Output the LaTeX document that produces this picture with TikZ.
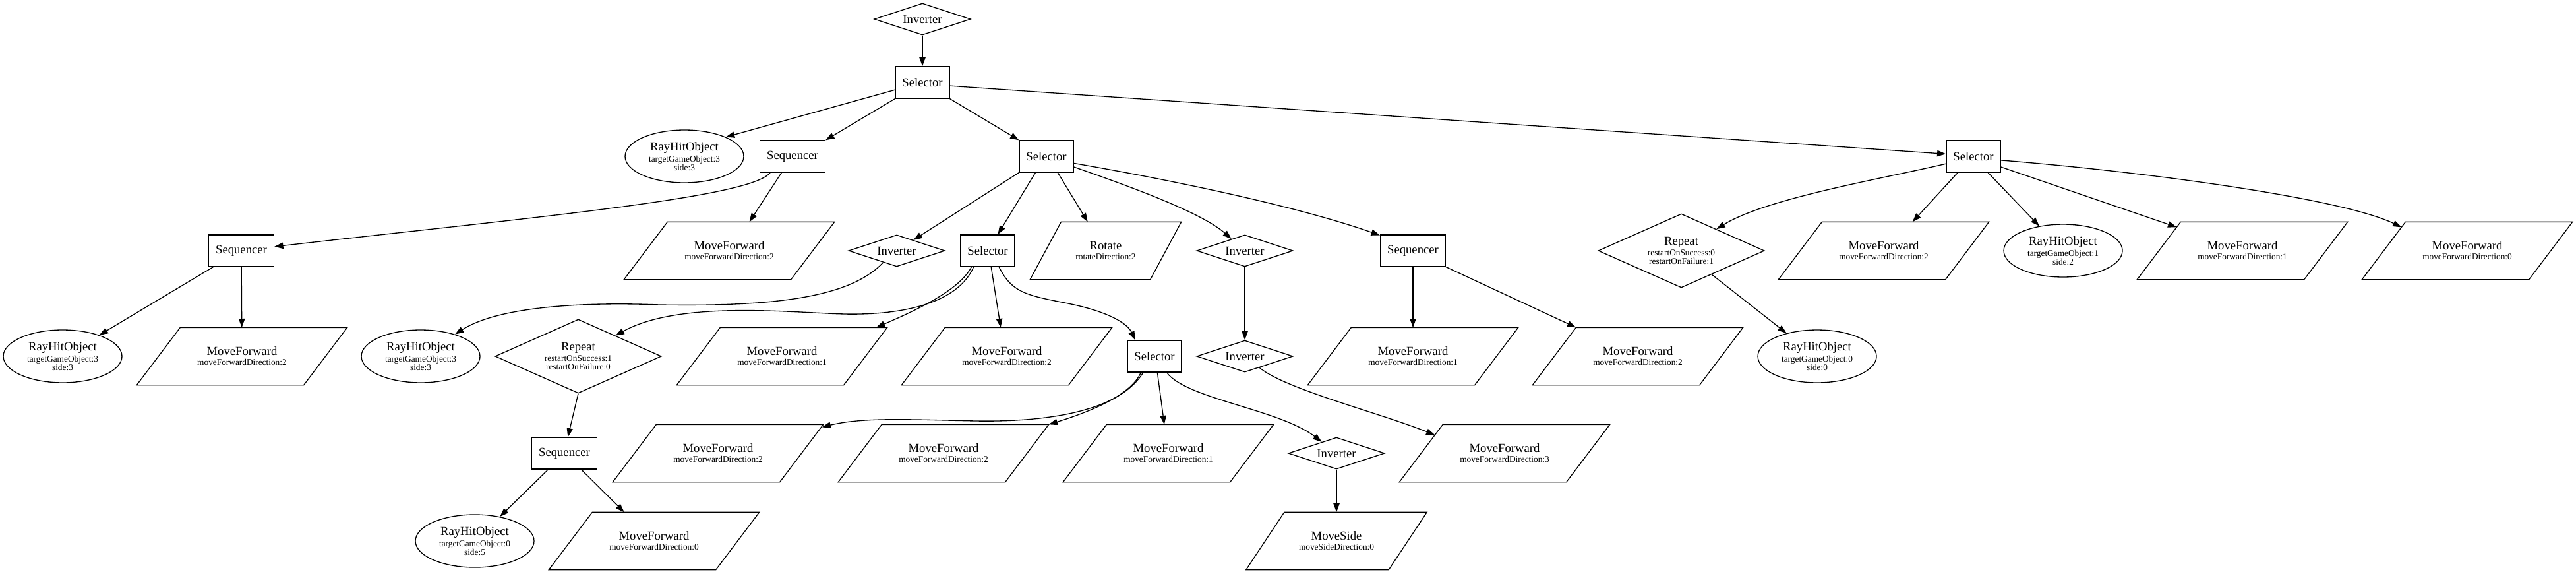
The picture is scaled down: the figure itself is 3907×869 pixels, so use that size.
\documentclass[tikz,border=0pt]{standalone}
\usepackage{fontspec}
\setmainfont{Liberation Serif}
\usetikzlibrary{shapes.geometric,arrows.meta,calc}
\newcommand\gvmain{\fontsize{14}{16}\selectfont}
\newcommand\mfwd[1]{{\gvmain MoveForward}\\[1.75pt]moveForwardDirection:#1}
\newcommand\rayhit[2]{{\gvmain RayHitObject}\\[1.75pt]targetGameObject:#1\\side:#2}
\newcommand\repeatlbl[2]{{\gvmain Repeat}\\[1.75pt]restartOnSuccess:#1\\restartOnFailure:#2}
\begin{document}
\begin{tikzpicture}[x=0.75pt,y=-0.75pt,
  gnode/.style={draw,line width=1pt,inner sep=1pt,align=center,font=\fontsize{10}{9.5}\selectfont},
  selbox/.style={gnode,rectangle,minimum width=61.5pt,minimum height=36pt,font=\gvmain},
  seqbox/.style={gnode,rectangle,minimum width=74.25pt,minimum height=36pt,font=\gvmain},
  invdia/.style={gnode,diamond,aspect=3,minimum width=109.5pt,minimum height=36pt,font=\gvmain},
  repdia/.style={gnode,diamond,aspect=2.25,minimum width=189pt,minimum height=84pt},
  rayell/.style={gnode,ellipse,minimum width=135pt,minimum height=60pt},
  para/.style={gnode,draw=none,rectangle,minimum width=#1,minimum height=64.5pt},
  mfpara/.style={para=238.5pt},
  paraline/.style={draw,line width=1pt,line join=miter},
  conn/.style={draw,line width=1pt,-{Triangle[length=10pt,width=7pt]}}
]
\fill[white] (0,0) rectangle (3907,869);
\useasboundingbox (0,0) rectangle (3907,869);

% level 0-1
\node[invdia] (inv0) at (1399,29) {Inverter};
\node[selbox] (sel0) at (1399,125) {Selector};
% level 2
\node[rayell] (rh1) at (1038,237) {\rayhit{3}{3}};
\node[seqbox] (seq1) at (1202,237) {Sequencer};
\node[selbox] (sel1) at (1587,237) {Selector};
\node[selbox] (sel2) at (2993,237) {Selector};
% level 3
\node[seqbox] (seq2) at (366,380) {Sequencer};
\node[mfpara] (mf1) at (1106,380) {\mfwd{2}};
\node[invdia] (inv1) at (1360,380) {Inverter};
\node[selbox] (sel3) at (1498,380) {Selector};
\node[para=171pt] (rot) at (1677,380) {{\gvmain Rotate}\\[1.75pt]rotateDirection:2};
\node[invdia] (inv2) at (1888,380) {Inverter};
\node[seqbox] (seq3) at (2143,380) {Sequencer};
\node[repdia] (rep1) at (2550,380) {\repeatlbl{0}{1}};
\node[mfpara] (mf2) at (2857,380) {\mfwd{2}};
\node[rayell] (rh2) at (3129,380) {\rayhit{1}{2}};
\node[mfpara] (mf3) at (3401,380) {\mfwd{1}};
\node[mfpara] (mf4) at (3742,380) {\mfwd{0}};
% level 4
\node[rayell] (rh3) at (95,540) {\rayhit{3}{3}};
\node[mfpara] (mf5) at (367,540) {\mfwd{2}};
\node[rayell] (rh4) at (638,540) {\rayhit{3}{3}};
\node[repdia] (rep2) at (877,540) {\repeatlbl{1}{0}};
\node[mfpara] (mf6) at (1186,540) {\mfwd{1}};
\node[mfpara] (mf7) at (1527,540) {\mfwd{2}};
\node[selbox] (sel4) at (1751,540) {Selector};
\node[invdia] (inv3) at (1888,540) {Inverter};
\node[mfpara] (mf8) at (2143,540) {\mfwd{1}};
\node[mfpara] (mf9) at (2484,540) {\mfwd{2}};
\node[rayell] (rh5) at (2756,540) {\rayhit{0}{0}};
% level 5
\node[seqbox] (seq4) at (856,687) {Sequencer};
\node[mfpara] (mf10) at (1089,687) {\mfwd{2}};
\node[mfpara] (mf11) at (1431,687) {\mfwd{2}};
\node[mfpara] (mf12) at (1772,687) {\mfwd{1}};
\node[invdia] (inv4) at (2027,687) {Inverter};
\node[mfpara] (mf13) at (2282,687) {\mfwd{3}};
% level 6
\node[rayell] (rh6) at (720,820) {\rayhit{0}{5}};
\node[mfpara] (mf14) at (992,820) {\mfwd{0}};
\node[para=204.75pt] (ms) at (2027,820) {{\gvmain MoveSide}\\[1.75pt]moveSideDirection:0};

% parallelogram outlines
\foreach \n/\o in {mf1/66,mf2/66,mf3/66,mf4/66,mf5/66,mf6/66,mf7/66,mf8/66,mf9/66,
  mf10/66,mf11/66,mf12/66,mf13/66,mf14/66,rot/47,ms/58}
  \draw[paraline] (\n.south west) -- ($(\n.south east)+(-\o,0)$) -- (\n.north east)
     -- ($(\n.north west)+(\o,0)$) -- cycle;

% edges
\draw[conn] (inv0) -- (sel0);
\draw[conn] (sel0.195) -- (rh1.25);
\draw[conn] (sel0.south west) -- (seq1.north east);
\draw[conn] (sel0.south east) -- (sel1.north west);
\draw[conn] (sel0.-7) -- (sel2.175);
\draw[conn] (sel1.south west) -- (inv1);
\draw[conn] (sel1.236) -- (sel3.58);
\draw[conn] (sel1.-55) -- (rot.122);
\draw[conn] (sel1.-21) .. controls (1700,278) and (1820,320) .. (inv2);
\draw[conn] (sel1.-14) .. controls (1760,270) and (1960,310) .. (seq3.155);
\draw[conn] (seq1.216) .. controls (1140,300) and (800,330) .. (seq2.7);
\draw[conn] (seq1.236) -- (mf1.55);
\draw[conn] (seq2.210) -- (rh3.30);
\draw[conn] (seq2) -- (mf5);
\draw[conn] (inv1.221) .. controls (1290,450) and (1180,465) .. (1000,462) .. controls (900,458) and (760,462) .. (rh4);
\draw[conn] (sel3.229) .. controls (1455,455) and (1380,478) .. (1281,476) .. controls (1200,474) and (1030,455) .. (rep2);
\draw[conn] (sel3.225) .. controls (1455,440) and (1390,470) .. (mf6.17);
\draw[conn] (sel3.-78) -- (mf7.102);
\draw[conn] (sel3.-55) .. controls (1535,445) and (1560,448) .. (1620,460) .. controls (1680,472) and (1710,490) .. (sel4.140);
\draw[conn] (sel4.235) .. controls (1700,620) and (1600,640) .. (1480,638) .. controls (1380,636) and (1310,632) .. ($(mf10.north east)+(-2,4)$);
\draw[conn] (sel4.230) .. controls (1715,600) and (1650,625) .. (mf11.north east);
\draw[conn] (sel4.-80) -- (mf12.98);
\draw[conn] (sel4.-53) .. controls (1800,605) and (1940,620) .. (inv4);
\draw[conn] (inv2) -- (inv3);
\draw[conn] (inv3.-38) .. controls (1950,590) and (2090,625) .. ($(mf13.north west)+(54,16)$);
\draw[conn] (inv4) -- (ms);
\draw[conn] (seq3) -- (mf8);
\draw[conn] (seq3.south east) -- ($(mf9.north west)+(66,0)$);
\draw[conn] (rep2.south) -- (seq4.78);
\draw[conn] (seq4.225) -- (rh6.44);
\draw[conn] (seq4.-44) -- (mf14.136);
\draw[conn] (sel2.195) .. controls (2860,270) and (2680,300) .. (rep1);
\draw[conn] (sel2.226) -- (mf2.45);
\draw[conn] (sel2.-48) -- (rh2.134);
\draw[conn] (sel2.-21) -- ($(mf3.north west)+(60,8)$);
\draw[conn] (sel2.-8) .. controls (3250,260) and (3550,300) .. ($(mf4.north west)+(60,8)$);
\draw[conn] (rep1.-38) -- (rh5.143);
\end{tikzpicture}
\end{document}
